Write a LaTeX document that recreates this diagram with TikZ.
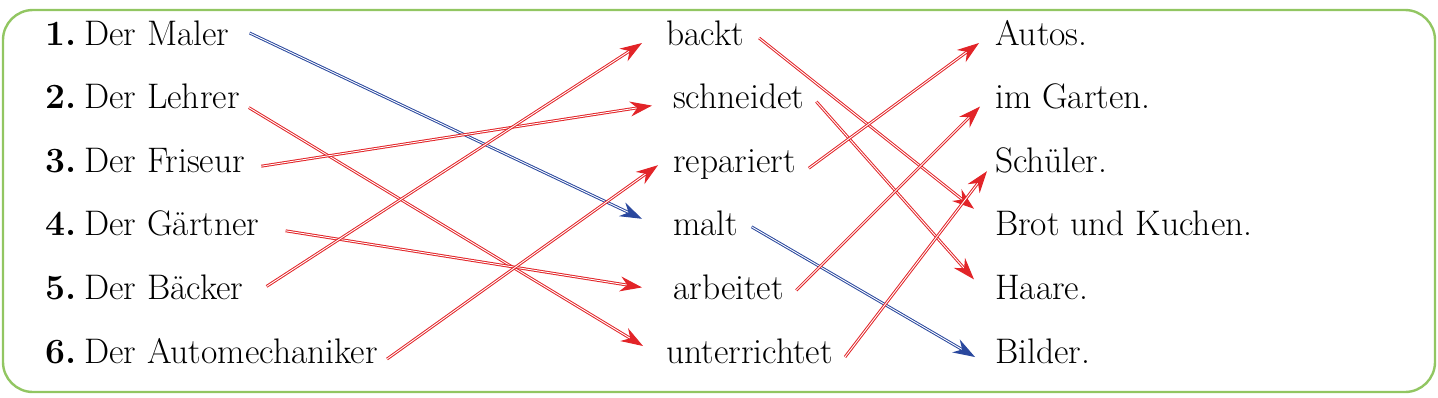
\documentclass[tikz,border=0pt]{standalone}
\usetikzlibrary{arrows.meta}
\definecolor{cred}{RGB}{226,36,40}
\definecolor{cblue}{RGB}{42,72,158}
\definecolor{cgreen}{RGB}{146,198,98}

\begin{document}
\begin{tikzpicture}[
  x=1pt,y=-1pt,
  font=\fontsize{35.5}{40}\selectfont,
  word/.style={anchor=base west,inner sep=0pt,text height=24pt,text depth=8pt},
  pair/.style={double=white,double distance=0.9pt,line width=1pt,-{Stealth[length=22pt,width=15pt]}}
]
  \useasboundingbox (0,0) rectangle (1438,397);
  \draw[cgreen,line width=2.4pt,rounded corners=30pt] (3,10) rectangle (1435,392);

  % left column
  \node[word] (l1) at (45,45)    {\textbf{1.}\hspace{8pt}Der Maler};
  \node[word] (l2) at (45,108.6) {\textbf{2.}\hspace{8pt}Der Lehrer};
  \node[word] (l3) at (45,172.2) {\textbf{3.}\hspace{8pt}Der Friseur};
  \node[word] (l4) at (45,235.8) {\textbf{4.}\hspace{8pt}Der Gärtner};
  \node[word] (l5) at (45,299.4) {\textbf{5.}\hspace{8pt}Der Bäcker};
  \node[word] (l6) at (45,363)   {\textbf{6.}\hspace{8pt}Der Automechaniker};

  % verbs
  \node[word] (m1) at (666,45)    {backt};
  \node[word] (m2) at (673,108.6) {schneidet};
  \node[word] (m3) at (673,172.2) {repariert};
  \node[word] (m4) at (673,235.8) {malt};
  \node[word] (m5) at (673,299.4) {arbeitet};
  \node[word] (m6) at (666,363)   {unterrichtet};

  % objects
  \node[word] (r1) at (995,45)    {Autos.};
  \node[word] (r2) at (995,108.6) {im Garten.};
  \node[word] (r3) at (995,172.2) {Schüler.};
  \node[word] (r4) at (995,235.8) {Brot und Kuchen.};
  \node[word] (r5) at (995,299.4) {Haare.};
  \node[word] (r6) at (995,363)   {Bilder.};

  \draw[pair,draw=cblue] ([shift={(20,-4)}]l1.east) -- ([shift={(-31,-9)}]m4.west);
  \draw[pair,draw=cred] ([shift={(9,7)}]l2.east) -- ([shift={(-23,-9)}]m6.west);
  \draw[pair,draw=cred] ([shift={(16,2)}]l3.east) -- ([shift={(-21,5)}]m2.west);
  \draw[pair,draw=cred] ([shift={(26,3)}]l4.east) -- ([shift={(-31,-4)}]m5.west);
  \draw[pair,draw=cred] ([shift={(23,-5)}]l5.east) -- ([shift={(-24,6)}]m1.west);
  \draw[pair,draw=cred] ([shift={(9,4)}]l6.east) -- ([shift={(-15,1)}]m3.west);

  \draw[pair,draw=cred] ([shift={(15,1)}]m1.east) -- ([shift={(-21,-19)}]r4.west);
  \draw[pair,draw=cred] ([shift={(12,1)}]m2.east) -- ([shift={(-21,-12)}]r5.west);
  \draw[pair,draw=cred] ([shift={(13,4)}]m3.east) -- ([shift={(-16,6)}]r1.west);
  \draw[pair,draw=cblue] ([shift={(13,-1)}]m4.east) -- ([shift={(-20,2)}]r6.west);
  \draw[pair,draw=cred] ([shift={(12,-1)}]m5.east) -- ([shift={(-15,6)}]r2.west);
  \draw[pair,draw=cred] ([shift={(12,2)}]m6.east) -- ([shift={(-8,7)}]r3.west);
\end{tikzpicture}
\end{document}
